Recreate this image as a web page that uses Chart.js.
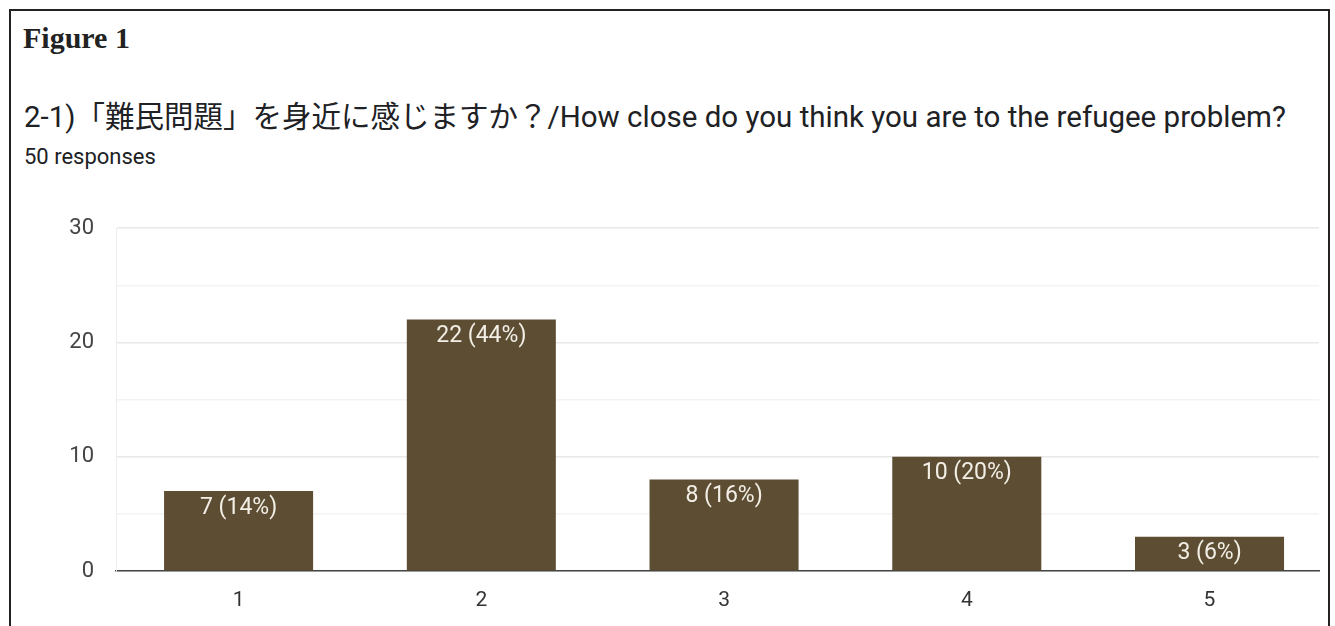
<!DOCTYPE html>
<html>
<head>
<meta charset="utf-8">
<script src="https://cdn.jsdelivr.net/npm/chart.js@4"></script>
<style>
  html, body { margin: 0; padding: 0; background: #fff; }
  body { width: 1335px; height: 626px; position: relative; overflow: hidden; }
  .frame { position: absolute; left: 8.5px; top: 8.5px; width: 1321.5px; height: 640px; border: 2.5px solid #222; box-sizing: border-box; }
  .fig { position: absolute; left: 23px; top: 23px; font: bold 30px "Liberation Serif", "DejaVu Serif", serif; color: #222; }
  .title { position: absolute; left: 24px; top: 103px; font: 29.5px Roboto, "Noto Sans CJK JP", sans-serif; color: #202124; white-space: nowrap; }
  .resp { position: absolute; left: 24px; top: 146px; font: 22px Roboto, sans-serif; color: #202124; }
  .fig, .title, .resp { line-height: 1; }
  #wrap { position: absolute; left: 0; top: 193px; width: 1335px; height: 433px; }
</style>
</head>
<body>
<div class="frame"></div>
<div class="fig">Figure 1</div>
<div class="title">2-1)「難民問題」を身近に感じますか？/How close do you think you are to the refugee problem?</div>
<div class="resp">50 responses</div>
<div id="wrap"><canvas id="chart"></canvas></div>
<script>
const categories = [1, 2, 3, 4, 5];
const counts = [7, 22, 8, 10, 3];
const total = 50;
const yTicks = [0, 10, 20, 30];

const barLabels = {
  id: 'barLabels',
  afterDatasetsDraw(chart) {
    const ctx = chart.ctx;
    const meta = chart.getDatasetMeta(0);
    ctx.save();
    ctx.font = '23px Roboto, sans-serif';
    ctx.fillStyle = '#f3efe6';
    ctx.textAlign = 'center';
    ctx.textBaseline = 'middle';
    meta.data.forEach((bar, i) => {
      const v = counts[i];
      const pct = Math.round(v / total * 100);
      ctx.fillText(v + ' (' + pct + '%)', bar.x, bar.y + 17);
    });
    ctx.restore();
  }
};

new Chart(document.getElementById('chart'), {
  type: 'bar',
  data: {
    datasets: [{
      data: categories.map((c, i) => ({ x: c, y: counts[i] })),
      backgroundColor: '#5d4e33',
      categoryPercentage: 1,
      barPercentage: 0.614
    }]
  },
  options: {
    responsive: true,
    maintainAspectRatio: false,
    animation: false,
    layout: { padding: { top: 16, right: 16, left: 0, bottom: 0 } },
    plugins: { legend: { display: false }, tooltip: { enabled: false } },
    scales: {
      x: {
        type: 'linear',
        min: 0.495,
        max: 5.451,
        offset: false,
        grid: { display: false, drawTicks: false },
        border: { color: '#444', width: 1.5 },
        ticks: { color: '#333', font: { size: 21, family: 'Roboto' }, padding: 17 },
        afterBuildTicks: s => { s.ticks = categories.map(v => ({ value: v })); },
        afterFit: s => { s.height = 55; }
      },
      y: {
        min: 0,
        max: 30,
        ticks: {
          stepSize: 5,
          color: '#444',
          font: { size: 22, family: 'Roboto' },
          padding: 22,
          callback: v => yTicks.includes(v) ? v : ''
        },
        grid: {
          drawTicks: false,
          color: c => c.tick.value % 10 === 0 ? '#e8e8e8' : '#f3f3f3',
          lineWidth: 1.5
        },
        border: { color: '#ededed' },
        afterFit: s => { s.width = 116; }
      }
    }
  },
  plugins: [barLabels]
});
</script>
</body>
</html>
